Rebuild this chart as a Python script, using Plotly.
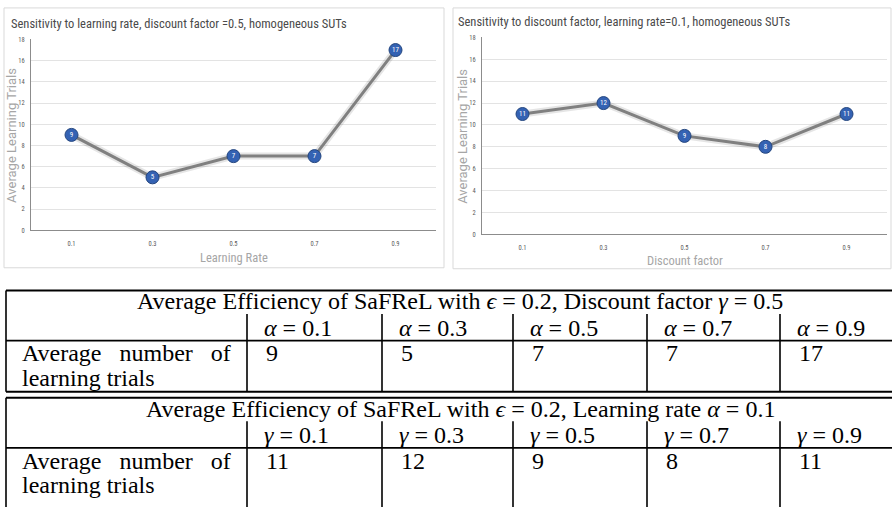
import plotly.graph_objects as go

# ---------------- data ----------------
lr_values = ["0.1", "0.3", "0.5", "0.7", "0.9"]
lr_trials = [9, 5, 7, 7, 17]
df_values = ["0.1", "0.3", "0.5", "0.7", "0.9"]
df_trials = [11, 12, 9, 8, 11]
y_ticks = [0, 2, 4, 6, 8, 10, 12, 14, 16, 18]

title_lr = "Sensitivity to learning rate, discount factor =0.5, homogeneous SUTs"
title_df = "Sensitivity to discount factor, learning rate=0.1, homogeneous SUTs"
xlab_lr = "Learning Rate"
xlab_df = "Discount factor"
ylab = "Average Learning Trials"

tab1_title = "Average Efficiency of SaFReL with <i>ϵ</i> = 0.2, Discount factor <i>γ</i> = 0.5"
tab2_title = "Average Efficiency of SaFReL with <i>ϵ</i> = 0.2, Learning rate <i>α</i> = 0.1"
row_label = ["Average&nbsp;&nbsp;&nbsp;number&nbsp;&nbsp;&nbsp;of", "learning trials"]

W, H = 892, 507


def px(x):
    return x / W


def py(y):
    return 1 - y / H


fig = go.Figure()

LINE = "#808080"
MARK = "#3462b3"
GRID = "#e3e3e3"
TXT = "#595959"
AX_T = "#a6a6a6"
CHART_FONT = "Liberation Sans Narrow, Roboto Condensed, Roboto, sans-serif"

for i, (cats, vals, xa, ya) in enumerate([
    (lr_values, lr_trials, "x", "y"),
    (df_values, df_trials, "x2", "y2"),
]):
    fig.add_trace(go.Scatter(
        x=cats, y=vals, xaxis=xa, yaxis=ya, mode="lines",
        line=dict(color="rgba(0,0,0,0.10)", width=7),
        hoverinfo="skip", showlegend=False,
    ))
    fig.add_trace(go.Scatter(
        x=cats, y=vals, xaxis=xa, yaxis=ya, mode="lines+markers+text",
        line=dict(color=LINE, width=3),
        marker=dict(size=13, color=MARK, line=dict(color="#24467f", width=1)),
        text=[str(v) for v in vals], textposition="middle center",
        textfont=dict(color="white", size=7, family="Roboto Condensed, Roboto"),
        showlegend=False,
    ))

axis_common_x = dict(
    type="category", range=[-0.5, 4.5], showgrid=False,
    showline=True, linecolor="#8c8c8c", linewidth=1, ticks="",
    tickfont=dict(size=6.5, color=TXT, family=CHART_FONT),
    ticklabelstandoff=7, zeroline=False, fixedrange=True,
)
axis_common_y = dict(
    range=[0, 18], tickvals=y_ticks, showgrid=True, gridcolor=GRID, gridwidth=1,
    showline=True, linecolor="#8c8c8c", linewidth=1, ticks="",
    tickfont=dict(size=6.5, color=TXT, family=CHART_FONT),
    ticklabelstandoff=4, zeroline=False, fixedrange=True,
)

fig.update_layout(
    width=W, height=H, margin=dict(l=0, r=0, t=0, b=0),
    paper_bgcolor="white", plot_bgcolor="white", showlegend=False,
    xaxis=dict(domain=[px(31), px(436)], anchor="y", **axis_common_x),
    yaxis=dict(domain=[py(230), py(36)], anchor="x", **axis_common_y),
    xaxis2=dict(domain=[px(482), px(887)], anchor="y2", **axis_common_x),
    yaxis2=dict(domain=[py(234), py(34)], anchor="x2", **axis_common_y),
)

shapes = []
# chart panels
shapes.append(dict(type="rect", xref="paper", yref="paper", x0=px(4), x1=px(444), y0=py(268), y1=py(4),
                   line=dict(color="#d9d9d9", width=1), layer="below"))
shapes.append(dict(type="rect", xref="paper", yref="paper", x0=px(453), x1=px(891), y0=py(269), y1=py(4),
                   line=dict(color="#d9d9d9", width=1), layer="below"))

annotations = []


def ann(text, x, y, size, color, family, xanchor="center", textangle=0):
    annotations.append(dict(text=text, x=px(x), y=py(y), xref="paper", yref="paper",
                            xanchor=xanchor, yanchor="middle", showarrow=False,
                            textangle=textangle,
                            font=dict(size=size, color=color, family=family)))


TITLE_FONT = "Liberation Sans Narrow, Roboto Condensed, Roboto, sans-serif"
ann(title_lr, 9, 20, 12.5, "#4a4a4a", TITLE_FONT, xanchor="left")
ann(title_df, 456, 18, 12.5, "#4a4a4a", TITLE_FONT, xanchor="left")
ann(xlab_lr, 234, 258, 12.5, AX_T, CHART_FONT)
ann(xlab_df, 685, 261, 12.5, AX_T, CHART_FONT)
ann(ylab, 12, 134, 13, AX_T, "Roboto, sans-serif", textangle=-90)
ann(ylab, 463, 135, 13, AX_T, "Roboto, sans-serif", textangle=-90)

# ---------------- tables ----------------
col_lines = [247, 382, 513, 647, 780]
SERIF = "Liberation Serif, serif"
FS = 24


def hline(x0, x1, y, w=1.6):
    shapes.append(dict(type="line", xref="paper", yref="paper", x0=px(x0), x1=px(x1),
                       y0=py(y), y1=py(y), line=dict(color="black", width=w)))


def vline(x, y0, y1, w=1.6):
    shapes.append(dict(type="line", xref="paper", yref="paper", x0=px(x), x1=px(x),
                       y0=py(y0), y1=py(y1), line=dict(color="black", width=w)))


def table(top, bottom, title, sym, cats, vals, draw_bottom):
    hline(6, 900, top, 2)
    if draw_bottom:
        hline(6, 900, bottom, 2)
    vline(6, top, bottom)
    hline(6, 900, top + 51)
    for cx in col_lines:
        vline(cx, top + 24, bottom)
    ann(title, 460, top + 11, FS, "black", SERIF)
    for cx, c, v in zip(col_lines, cats, vals):
        ann(f"<i>{sym}</i> = {c}", cx + 15, top + 38, FS, "black", SERIF, xanchor="left")
        ann(str(v), cx + 17, top + 64, FS, "black", SERIF, xanchor="left")
    ann(row_label[0], 20, top + 64, FS, "black", SERIF, xanchor="left")
    ann(row_label[1], 20, top + 89, FS, "black", SERIF, xanchor="left")


table(291, 394, tab1_title, "α", lr_values, lr_trials, True)
table(400, 520, tab2_title, "γ", df_values, df_trials, False)

fig.update_layout(shapes=shapes, annotations=annotations)
fig.write_html("out.html", config={"displayModeBar": False},
               post_script="document.body.style.margin='0px';document.body.style.overflow='hidden';")
